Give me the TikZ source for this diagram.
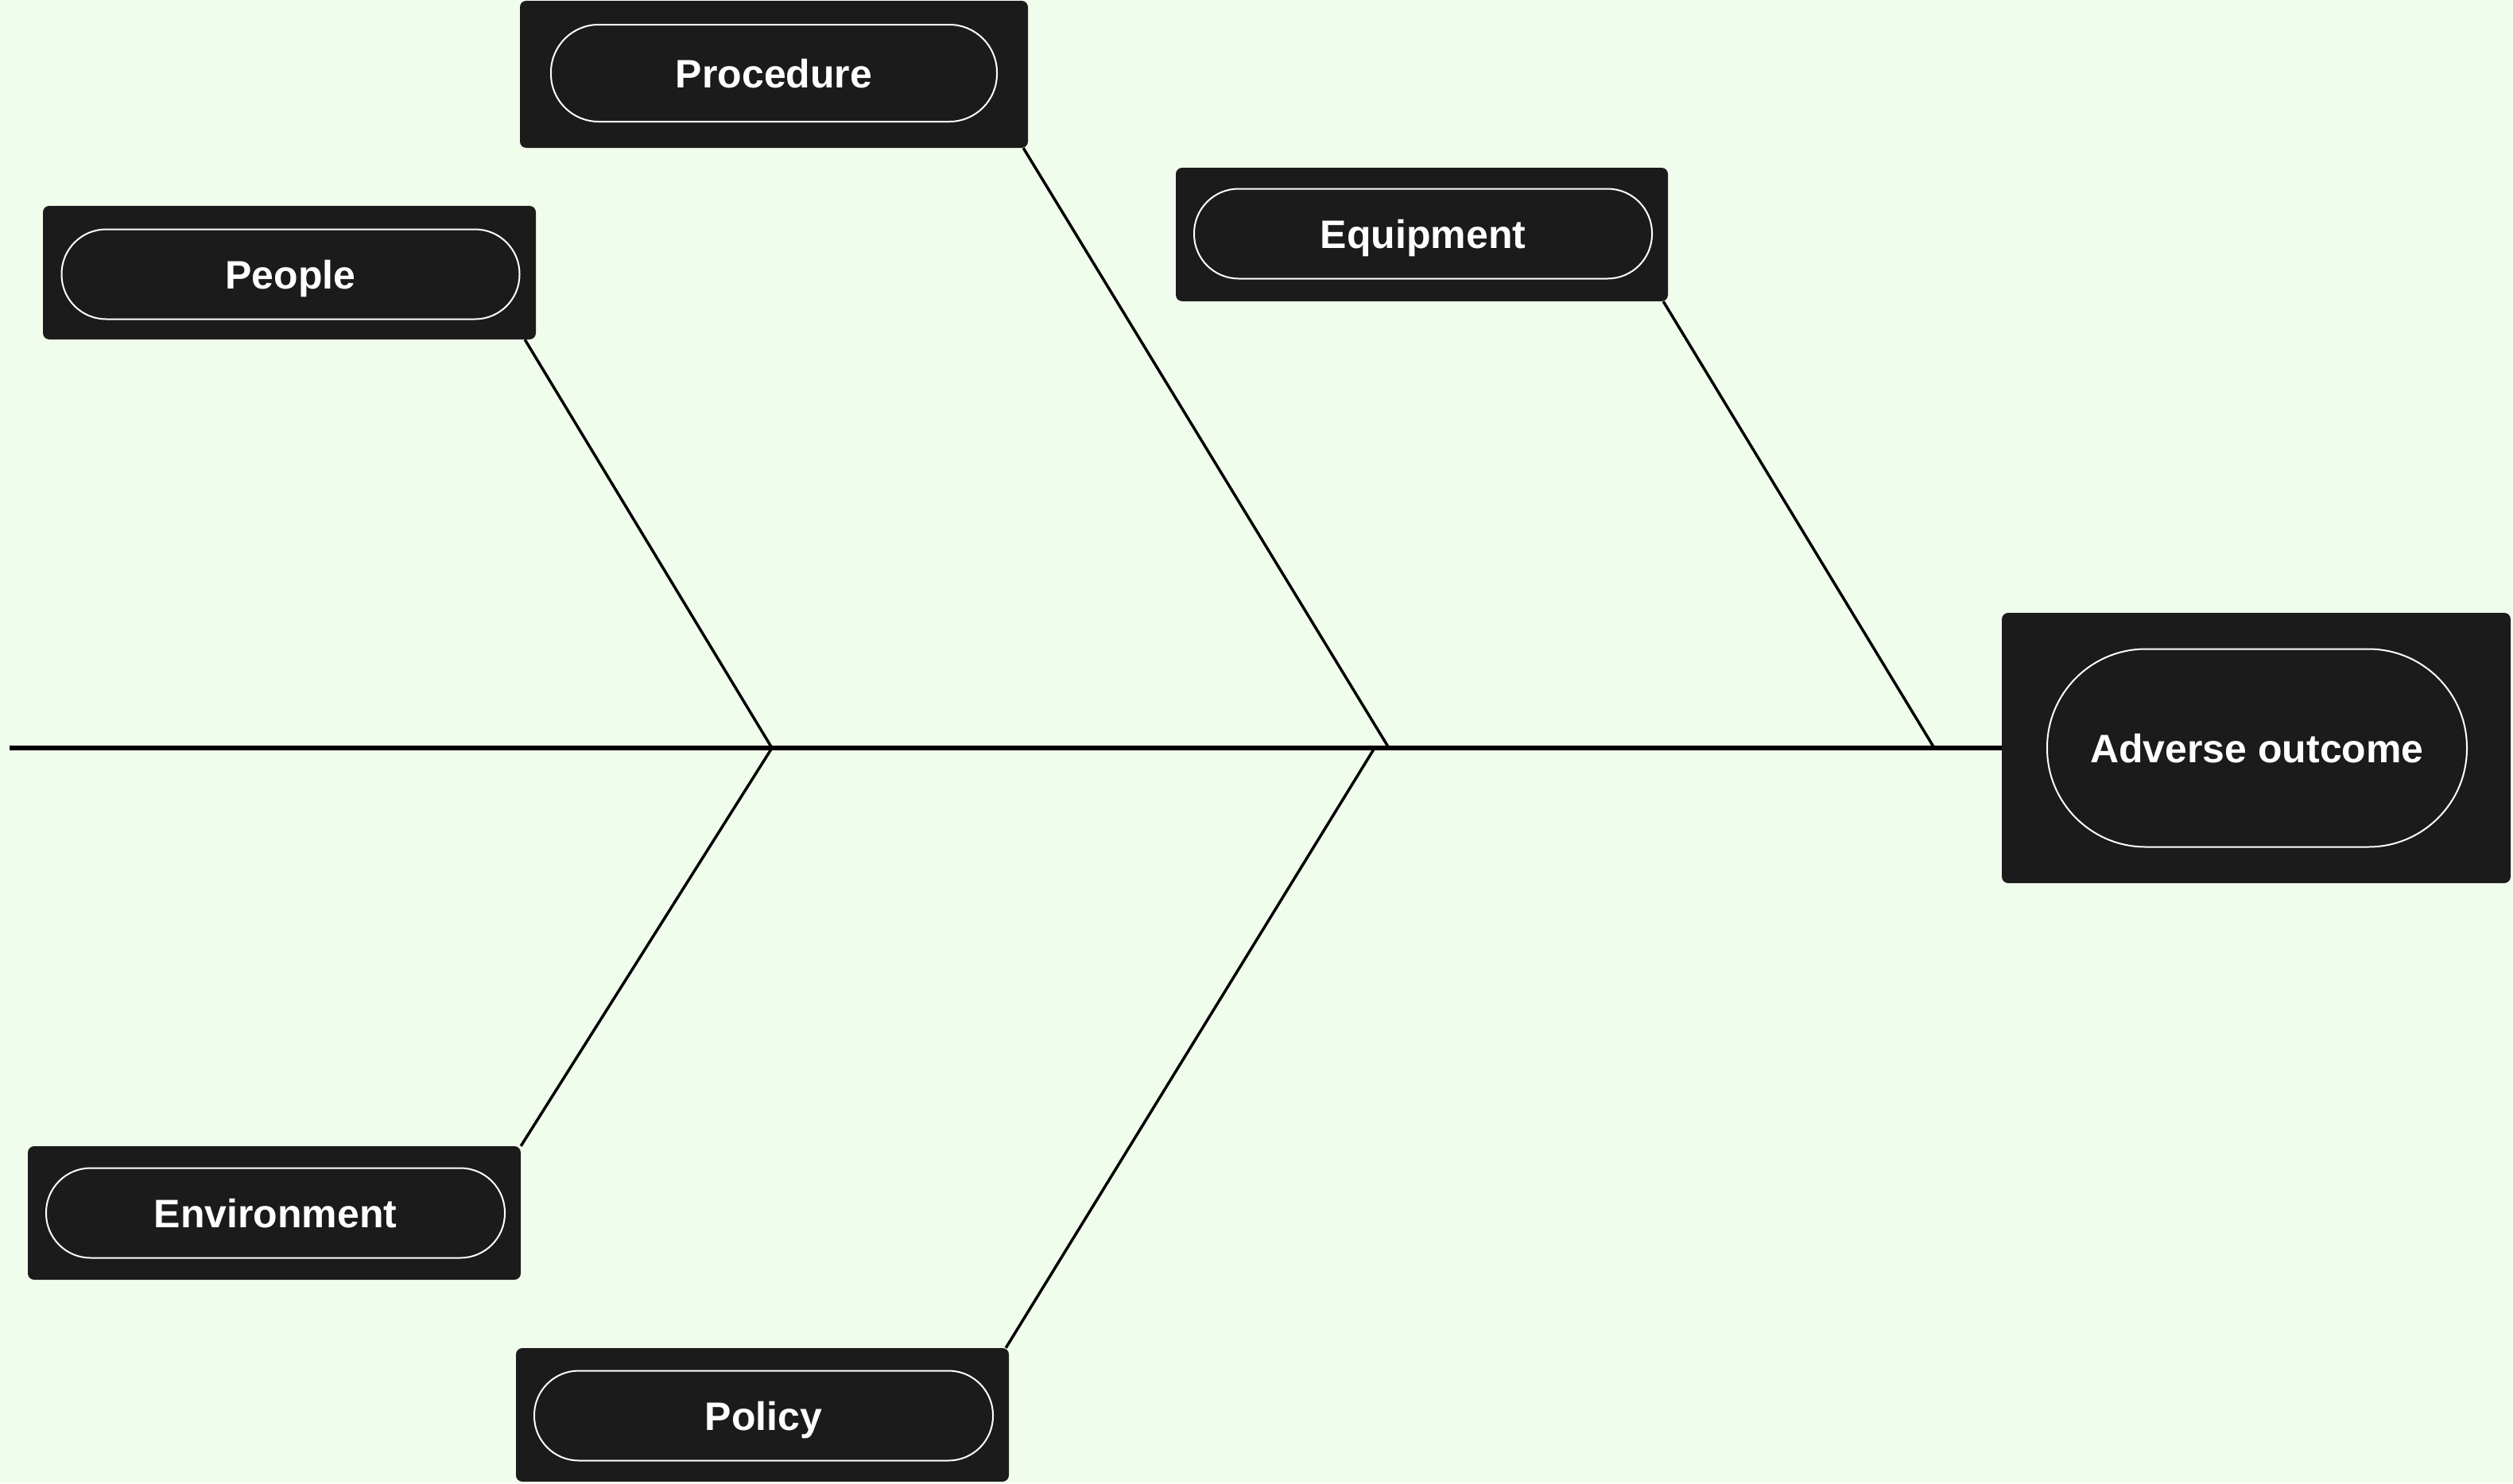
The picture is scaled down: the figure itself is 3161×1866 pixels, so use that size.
\documentclass[tikz,border=0pt]{standalone}
\usepackage{fontspec}
\setmainfont{Liberation Sans}
\definecolor{bgc}{HTML}{F1FDEC}
\definecolor{boxc}{HTML}{1C1B1C}
\begin{document}
\begin{tikzpicture}[x=1pt,y=-1pt,
  outerbox/.style={rectangle, fill=boxc, rounded corners=8pt, inner sep=0pt, minimum width=620pt, minimum height=168pt},
  pill/.style={rectangle, draw=white, line width=2pt, fill=boxc, rounded corners=56pt, inner sep=0pt,
     minimum width=576pt, minimum height=113pt, text=white, text height=36pt, text depth=0pt,
     font=\fontsize{50}{60}\selectfont\bfseries},
  bone/.style={line width=3.5pt, draw=black},
  spine/.style={line width=6pt, draw=black}]
\fill[bgc] (0,0) rectangle (3161,1866);
\useasboundingbox (0,0) rectangle (3161,1866);

% category boxes
\node[outerbox] (people) at (364,343) {};
\node[pill] (peoplepill) at (365.5,345) {People};

\node[outerbox, minimum width=639pt, minimum height=185pt] (procedure) at (973.5,93.5) {};
\node[pill, minimum width=561pt, minimum height=122pt, rounded corners=60pt] (procedurepill) at (973.5,92) {Procedure};

\node[outerbox, minimum width=619pt] (equipment) at (1788.5,295) {};
\node[pill] (equipmentpill) at (1790,294) {Equipment};

\node[outerbox] (environment) at (345,1526) {};
\node[pill, minimum width=577pt] (environmentpill) at (346.5,1526) {Environment};

\node[outerbox] (policy) at (959,1780) {};
\node[pill, minimum width=577pt] (policypill) at (960.5,1781) {Policy};

\node[outerbox, minimum width=640pt, minimum height=340pt] (adverse) at (2838,941) {};
\node[pill, minimum width=528pt, minimum height=249pt, rounded corners=124pt] (adversepill) at (2839,941) {Adverse outcome};

% spine and junctions
\coordinate (tail) at (12,941);
\coordinate (j1) at (971,941);
\coordinate (j2u) at (1747,941);
\coordinate (j2l) at (1729,941);
\coordinate (j3) at (2433,941);

\draw[spine] (tail) -- (adverse.west);

\draw[bone] ([xshift=-14pt]people.south east) -- (j1);
\draw[bone] (environment.north east) -- (j1);
\draw[bone] ([xshift=-6pt]procedure.south east) -- (j2u);
\draw[bone] ([xshift=-4pt]policy.north east) -- (j2l);
\draw[bone] ([xshift=-6pt]equipment.south east) -- (j3);
\end{tikzpicture}
\end{document}
